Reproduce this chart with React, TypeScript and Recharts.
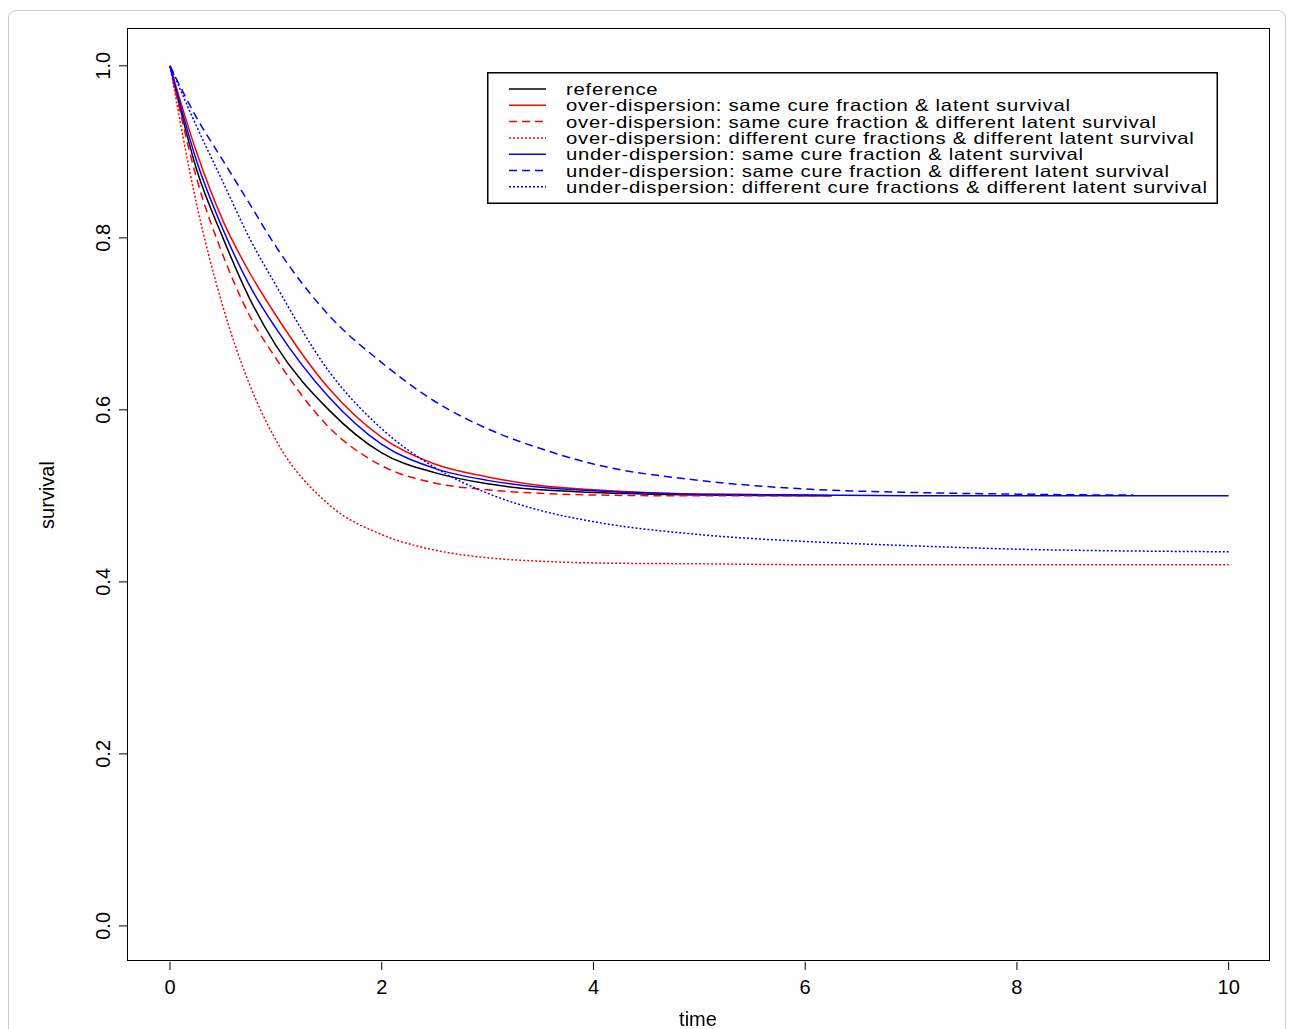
import { LineChart, Line, XAxis, YAxis } from "recharts";

const tShort = [0, 0.25, 0.5, 0.75, 1, 1.5, 2, 2.5, 3, 3.5, 4, 5, 6, 6.25];
const tFull = [0, 0.25, 0.5, 0.75, 1, 1.5, 2, 2.5, 3, 3.5, 4, 5, 6, 7, 8, 9, 10];
const tBlueDash = [0, 0.25, 0.5, 0.75, 1, 1.5, 2, 2.5, 3, 3.5, 4, 5, 6, 7, 8, 9, 9.1];

const referenceVals = [1, 0.88, 0.8, 0.73, 0.675, 0.6, 0.55, 0.527, 0.514, 0.507, 0.504, 0.501, 0.5, 0.5];
const overSame = [1, 0.9, 0.82, 0.76, 0.71, 0.625, 0.568, 0.537, 0.522, 0.512, 0.507, 0.502, 0.501, 0.5];
const overDiffLatent = [1, 0.87, 0.78, 0.71, 0.66, 0.58, 0.535, 0.515, 0.507, 0.503, 0.501, 0.5, 0.5, 0.5];
const overDiffAll = [1, 0.84, 0.72, 0.63, 0.565, 0.49, 0.455, 0.437, 0.428, 0.424, 0.422, 0.421, 0.42, 0.42, 0.42, 0.42, 0.42];
const underSame = [1, 0.89, 0.81, 0.745, 0.695, 0.615, 0.56, 0.532, 0.518, 0.51, 0.506, 0.502, 0.501, 0.5, 0.5, 0.5, 0.5];
const underDiffLatent = [1, 0.94, 0.89, 0.84, 0.79, 0.71, 0.655, 0.61, 0.578, 0.555, 0.537, 0.518, 0.508, 0.504, 0.502, 0.501, 0.501];
const underDiffAll = [1, 0.93, 0.865, 0.8, 0.745, 0.645, 0.578, 0.533, 0.503, 0.483, 0.47, 0.455, 0.447, 0.442, 0.438, 0.436, 0.435];

const xTicks = [0, 2, 4, 6, 8, 10];
const yTicks = [0, 0.2, 0.4, 0.6, 0.8, 1.0];

const zip = (ts: number[], vs: number[]) => ts.map((t, i) => ({ t, v: vs[i] }));

const series = [
  { name: "reference", data: zip(tShort, referenceVals), color: "#000000", dash: undefined },
  { name: "over-dispersion: same cure fraction & latent survival", data: zip(tShort, overSame), color: "#ff0000", dash: undefined },
  { name: "over-dispersion: same cure fraction & different latent survival", data: zip(tShort, overDiffLatent), color: "#ff0000", dash: "8 5" },
  { name: "over-dispersion: different cure fractions & different latent survival", data: zip(tFull, overDiffAll), color: "#ff0000", dash: "2 2" },
  { name: "under-dispersion: same cure fraction & latent survival", data: zip(tFull, underSame), color: "#0000ff", dash: undefined },
  { name: "under-dispersion: same cure fraction & different latent survival", data: zip(tBlueDash, underDiffLatent), color: "#0000ff", dash: "8 5" },
  { name: "under-dispersion: different cure fractions & different latent survival", data: zip(tFull, underDiffAll), color: "#0000ff", dash: "2 2" },
];

const font = "'Liberation Sans', Arial, sans-serif";

const YTick = ({ x, y, payload }: any) => (
  <text x={x - 7} y={y} transform={`rotate(-90 ${x - 7} ${y})`} textAnchor="middle" fontSize={20} fontFamily={font} fill="#000">
    {payload.value.toFixed(1)}
  </text>
);

const XTick = ({ x, y, payload }: any) => (
  <text x={x} y={y + 22} textAnchor="middle" fontSize={20} fontFamily={font} fill="#000">
    {payload.value}
  </text>
);

export default function App() {
  return (
    <div style={{ position: "fixed", left: 0, top: 0, width: 1291, height: 1029, background: "#fff" }}>
      <div style={{ position: "absolute", left: 8, top: 10, width: 1276, height: 1030, border: "1px solid #ccc", borderRadius: 8 }} />
      <LineChart width={1291} height={1029} margin={{ top: 28, right: 20, bottom: 0, left: 0 }}>
        <XAxis dataKey="t" type="number" domain={[-0.406, 10.4]} ticks={xTicks} tick={<XTick />} tickSize={8} axisLine={false} tickLine={{ stroke: "#000" }} height={67} allowDataOverflow />
        <YAxis type="number" domain={[-0.042, 1.044]} ticks={yTicks} tick={<YTick />} tickSize={8} axisLine={false} tickLine={{ stroke: "#000" }} width={127} allowDataOverflow />
        {series.map((s) => (
          <Line key={s.name} data={s.data} dataKey="v" type="monotone" stroke={s.color} strokeWidth={1.5} strokeDasharray={s.dash} dot={false} isAnimationActive={false} />
        ))}
      </LineChart>
      <div style={{ position: "absolute", left: 127, top: 28, width: 1143, height: 933, border: "1.5px solid #000", boxSizing: "border-box", pointerEvents: "none" }} />
      <div style={{ position: "absolute", left: 14, top: 495, transform: "translate(0,-50%) rotate(-90deg)", fontFamily: font, fontSize: 20 }}>survival</div>
      <div style={{ position: "absolute", left: 698, top: 1008, transform: "translateX(-50%)", fontFamily: font, fontSize: 20 }}>time</div>
      <svg style={{ position: "absolute", left: 487, top: 72 }} width={731} height={132}>
        <rect x={0.75} y={0.75} width={729.5} height={130.5} fill="#fff" stroke="#000" strokeWidth={1.5} />
        {series.map((s, i) => (
          <g key={s.name}>
            <line x1={22} x2={59} y1={17 + i * 16.3} y2={17 + i * 16.3} stroke={s.color} strokeWidth={1.5} strokeDasharray={s.dash} />
            <text x={0} y={0} transform={`translate(79 ${23 + i * 16.3}) scale(1.23 1)`} fontFamily={font} fontSize={16.5} letterSpacing={0.6} fill="#000">{s.name}</text>
          </g>
        ))}
      </svg>
    </div>
  );
}
